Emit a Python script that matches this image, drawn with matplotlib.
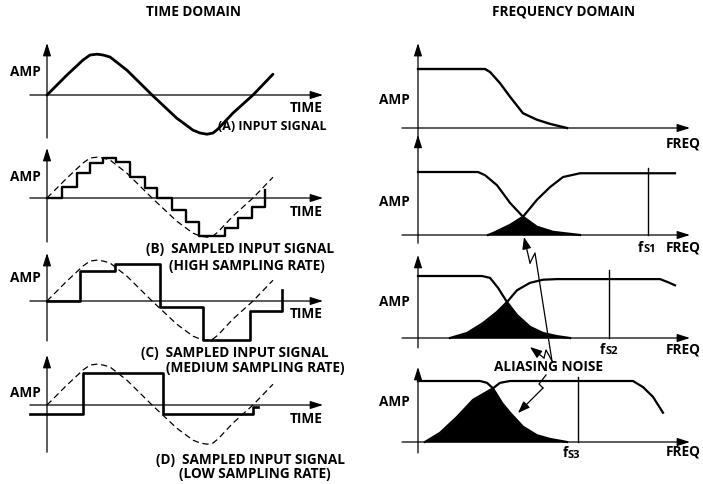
import numpy as np
import matplotlib.pyplot as plt

W, H = 703, 484
plt.rcParams['font.family'] = ['Open Sans', 'DejaVu Sans']
plt.rcParams['font.weight'] = 'bold'

# ---- time domain (t in periods, amplitude in peak units) ----
sig_t = [0.0, 0.097, 0.175, 0.209, 0.243, 0.272, 0.306, 0.388, 0.51, 0.63,
         0.709, 0.743, 0.777, 0.806, 0.83, 0.903, 1.0, 1.097]
sig_a = [0.0, 0.5, 0.875, 1.0, 1.02, 1.0, 0.95, 0.62, 0.0, -0.58,
         -0.88, -0.95, -0.98, -0.95, -0.85, -0.45, 0.0, 0.52]

high_t = [0, 0.073, 0.146, 0.209, 0.272, 0.335, 0.403, 0.476, 0.534, 0.607,
          0.675, 0.738, 0.864, 0.927, 0.995, 1.058]
high_a = [0, 0.28, 0.62, 0.88, 1.0, 0.9, 0.52, 0.25, 0.0, -0.3,
          -0.6, -0.95, -0.75, -0.5, -0.22, 0.2]

med_t = [0, 0.160, 0.330, 0.549, 0.757, 0.985, 1.141]
med_a = [0, 0.75, 0.93, -0.15, -0.98, -0.25, 0.28]

low_t = [-0.083, 0.175, 0.563, 1.0, 1.024]
low_a = [-0.22, 0.8, -0.22, -0.05, -0.05]

# ---- frequency domain (f in arbitrary units, amplitude 1 = passband) ----
in_f = [0, 0.67, 0.72, 0.82, 0.92, 1.05, 1.19, 1.32, 1.49]
in_a = [1.0, 1.0, 0.95, 0.76, 0.53, 0.25, 0.14, 0.07, 0.0]

s1_f1 = [0, 0.60, 0.67, 0.79, 0.92, 1.05, 1.19, 1.35, 1.62]
s1_a1 = [1.0, 1.0, 0.95, 0.79, 0.51, 0.29, 0.13, 0.05, 0.0]
s1_f2 = [0.70, 0.75, 0.92, 1.05, 1.19, 1.32, 1.45, 1.62, 2.57]
s1_a2 = [0.0, 0.03, 0.16, 0.29, 0.56, 0.76, 0.92, 0.98, 0.98]

s2_f1 = [0, 0.64, 0.72, 0.80, 0.89, 0.99, 1.12, 1.25, 1.39, 1.52]
s2_a1 = [1.0, 1.0, 0.97, 0.81, 0.58, 0.37, 0.18, 0.08, 0.03, 0.0]
s2_f2 = [0.32, 0.49, 0.65, 0.79, 0.89, 0.99, 1.12, 1.25, 1.39, 2.42, 2.50, 2.57]
s2_a2 = [0.0, 0.08, 0.24, 0.42, 0.58, 0.77, 0.89, 0.94, 0.95, 0.95, 0.90, 0.85]

s3_f1 = [0, 0.62, 0.69, 0.75, 0.84, 0.92, 1.05, 1.19, 1.32, 1.49]
s3_a1 = [1.0, 1.0, 0.97, 0.88, 0.64, 0.48, 0.25, 0.11, 0.05, 0.0]
s3_f2 = [0.07, 0.22, 0.39, 0.55, 0.75, 0.82, 0.92, 2.15, 2.25, 2.35, 2.45]
s3_a2 = [0.0, 0.15, 0.41, 0.69, 0.88, 0.97, 1.0, 1.0, 0.9, 0.74, 0.48]

fs = [2.30, 1.91, 1.60]
fs_top = [1.06, 1.10, 1.07]
cross = [1.05, 0.89, 0.75]

fig = plt.figure(figsize=(W / 100, H / 100), dpi=100)


def panel(x0, y0, sx, sy):
    # full-figure axes with its data origin at pixel (x0, y0)
    ax = fig.add_axes([0, 0, 1, 1])
    ax.set_xlim(-x0 / sx, (W - x0) / sx)
    ax.set_ylim((y0 - H) / sy, y0 / sy)
    ax.axis('off')
    ax.patch.set_visible(False)
    return ax


def arrows(ax, xr, yr):
    ap = dict(arrowstyle='-|>,head_length=0.7,head_width=0.22', lw=0.9,
              color='k', shrinkA=0, shrinkB=0, mutation_scale=11)
    ax.annotate('', xy=(xr[1], 0), xytext=(xr[0], 0), arrowprops=ap)
    ax.annotate('', xy=(0, yr[1]), xytext=(0, yr[0]), arrowprops=ap)


# time panels
t_orig = [95, 198, 301, 405]
t_yr = [(-1.075, 1.3), (-1.1, 1.25), (-1.0, 1.2), (-1.18, 1.25)]
tax = [panel(47, oy, 206, 40) for oy in t_orig]
for ax, yr in zip(tax, t_yr):
    arrows(ax, (-0.083, 1.34), yr)

tax[0].plot(sig_t, sig_a, color='k', lw=2.0, solid_capstyle='round')
for ax in tax[1:]:
    ax.plot(sig_t, sig_a, color='k', lw=0.9, ls=(0, (5, 3)))
tax[1].step(high_t, high_a, where='post', color='k', lw=1.7)
tax[2].step(med_t, med_a, where='post', color='k', lw=1.9)
tax[3].step(low_t, low_a, where='post', color='k', lw=1.9)

# frequency panels
f_orig = [128, 235, 338, 442]
f_sy = [59, 63, 62, 61]
f_yr = [(-0.25, 1.44), (-0.13, 1.59), (-0.16, 1.34), (-0.18, 1.23)]
fax = [panel(418, oy, 100, sy) for oy, sy in zip(f_orig, f_sy)]
for ax, yr in zip(fax, f_yr):
    arrows(ax, (-0.16, 2.72), yr)

fax[0].plot(in_f, in_a, color='k', lw=1.7)
curves = [(s1_f1, s1_a1, s1_f2, s1_a2), (s2_f1, s2_a1, s2_f2, s2_a2),
          (s3_f1, s3_a1, s3_f2, s3_a2)]
for ax, (f1, a1, f2, a2), fx, fsv, top in zip(fax[1:], curves, cross, fs, fs_top):
    ax.plot(f1, a1, color='k', lw=1.6)
    ax.plot(f2, a2, color='k', lw=1.6)
    pf = [f for f in f2 if f <= fx] + [f for f in f1 if f > fx]
    pa = [a for f, a in zip(f2, a2) if f <= fx] + [a for f, a in zip(f1, a1) if f > fx]
    ax.fill_between(pf, 0, pa, color='k', lw=0)
    ax.plot([fsv, fsv], [0, top], color='k', lw=1.0)

# labels and aliasing arrows, in pixel space
ov = fig.add_axes([0, 0, 1, 1])
ov.set_xlim(0, W)
ov.set_ylim(H, 0)
ov.axis('off')
ov.patch.set_visible(False)

fsz = 9.8
ov.text(194, 12, 'TIME DOMAIN', ha='center', va='center', fontsize=fsz)
ov.text(564, 12, 'FREQUENCY DOMAIN', ha='center', va='center', fontsize=fsz)

for y in [72, 177, 278, 393]:
    ov.text(25, y, 'AMP', ha='center', va='center', fontsize=fsz)
for y in [108, 212, 314, 419]:
    ov.text(323, y, 'TIME', ha='right', va='center', fontsize=fsz)
ov.text(218, 127, '(A) INPUT SIGNAL', ha='left', va='center', fontsize=9)
captions = [(146, 249, '(B)  SAMPLED INPUT SIGNAL'),
            (169, 266, '(HIGH SAMPLING RATE)'),
            (141, 353, '(C)  SAMPLED INPUT SIGNAL'),
            (166, 368, '(MEDIUM SAMPLING RATE)'),
            (156, 460, '(D)  SAMPLED INPUT SIGNAL'),
            (179, 474, '(LOW SAMPLING RATE)')]
for x, y, s in captions:
    ov.text(x, y, s, ha='left', va='center', fontsize=fsz)

for y in [100, 202, 302, 402]:
    ov.text(394, y, 'AMP', ha='center', va='center', fontsize=fsz)
for y in [143, 248, 350, 452]:
    ov.text(701, y, 'FREQ', ha='right', va='center', fontsize=fsz)
for x, y, sub in [(638, 248, 'S1'), (600, 350, 'S2'), (563, 453, 'S3')]:
    ov.text(x, y, 'f', ha='left', va='center', fontsize=fsz)
    ov.text(x + 5, y + 2, sub, ha='left', va='center', fontsize=8)
ov.text(549, 367, 'ALIASING NOISE', ha='center', va='center', fontsize=fsz)

ap = dict(arrowstyle='-|>,head_length=0.8,head_width=0.3', lw=0.9,
          color='k', shrinkA=0, shrinkB=0, mutation_scale=9)
bolts = [[(552, 361), (535, 253), (530, 263), (524, 237)],
         [(552, 361), (546, 350), (544, 358), (530, 347)],
         [(546, 375), (539, 384), (543, 388), (518, 413)]]
for pts in bolts:
    xs, ys = zip(*pts[:-1])
    ov.plot(xs, ys, color='k', lw=0.9)
    ov.annotate('', xy=pts[-1], xytext=pts[-2], arrowprops=ap)

fig.savefig('out.png', dpi=100)
